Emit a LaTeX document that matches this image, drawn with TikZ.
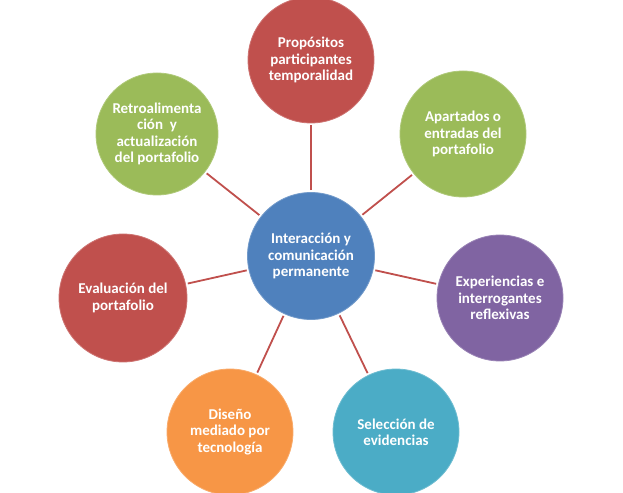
\documentclass[tikz,border=0pt]{standalone}
\usepackage{fontspec}
\setmainfont{Carlito}

\definecolor{hubBlue}{HTML}{4F81BD}
\definecolor{topRed}{HTML}{C0504D}
\definecolor{leafGreen}{HTML}{9BBB59}
\definecolor{leafPurple}{HTML}{8064A2}
\definecolor{leafTeal}{HTML}{4BACC6}
\definecolor{leafOrange}{HTML}{F79646}
\definecolor{spokeRed}{HTML}{C0504D}

\begin{document}
\begin{tikzpicture}[x=1pt,y=1pt,thick,
		every node/.style={circle,inner sep=0pt,minimum size=126pt,align=center,text=white,
			font=\bfseries\fontsize{15}{16.3}\selectfont,line width=0.8pt}]
		\tikzstyle{SpokeStyle}=[draw=spokeRed,line width=1.8pt,shorten >=2pt,shorten <=2pt]
		\useasboundingbox (0,0) rectangle (623,492);

		\node at (311,236) [fill=hubBlue,draw=hubBlue!80!white,minimum size=127pt] (hub) {Interacción y\\comunicación\\permanente};
		\node at (311,432) [fill=topRed,draw=topRed!80!white] (purposes) {Propósitos\\participantes\\temporalidad};
		\node at (463,358) [fill=leafGreen,draw=leafGreen!80!white] (sections) {Apartados o\\entradas del\\portafolio};
		\node at (500,194) [fill=leafPurple,draw=leafPurple!80!white] (experiences) {Experiencias e\\interrogantes\\reflexivas};
		\node at (396,60) [fill=leafTeal,draw=leafTeal!80!white] (evidence) {Selección de\\evidencias};
		\node at (230,60) [fill=leafOrange,draw=leafOrange!80!white] (design) {Diseño\\mediado por\\tecnología};
		\node at (123,194) [fill=topRed,draw=topRed!80!white,minimum size=128pt] (evaluation) {Evaluación del\\portafolio};
		\node at (157,358) [fill=leafGreen,draw=leafGreen!80!white,minimum size=122pt] (feedback) {Retroalimenta\\ción~~y\\actualización\\del portafolio};

		\path[SpokeStyle]
		(hub) edge (purposes)
		(hub) edge (sections)
		(hub) edge (experiences)
		(hub) edge (evidence)
		(hub) edge (design)
		(hub) edge (evaluation)
		(hub) edge (feedback);
	\end{tikzpicture}
\end{document}
